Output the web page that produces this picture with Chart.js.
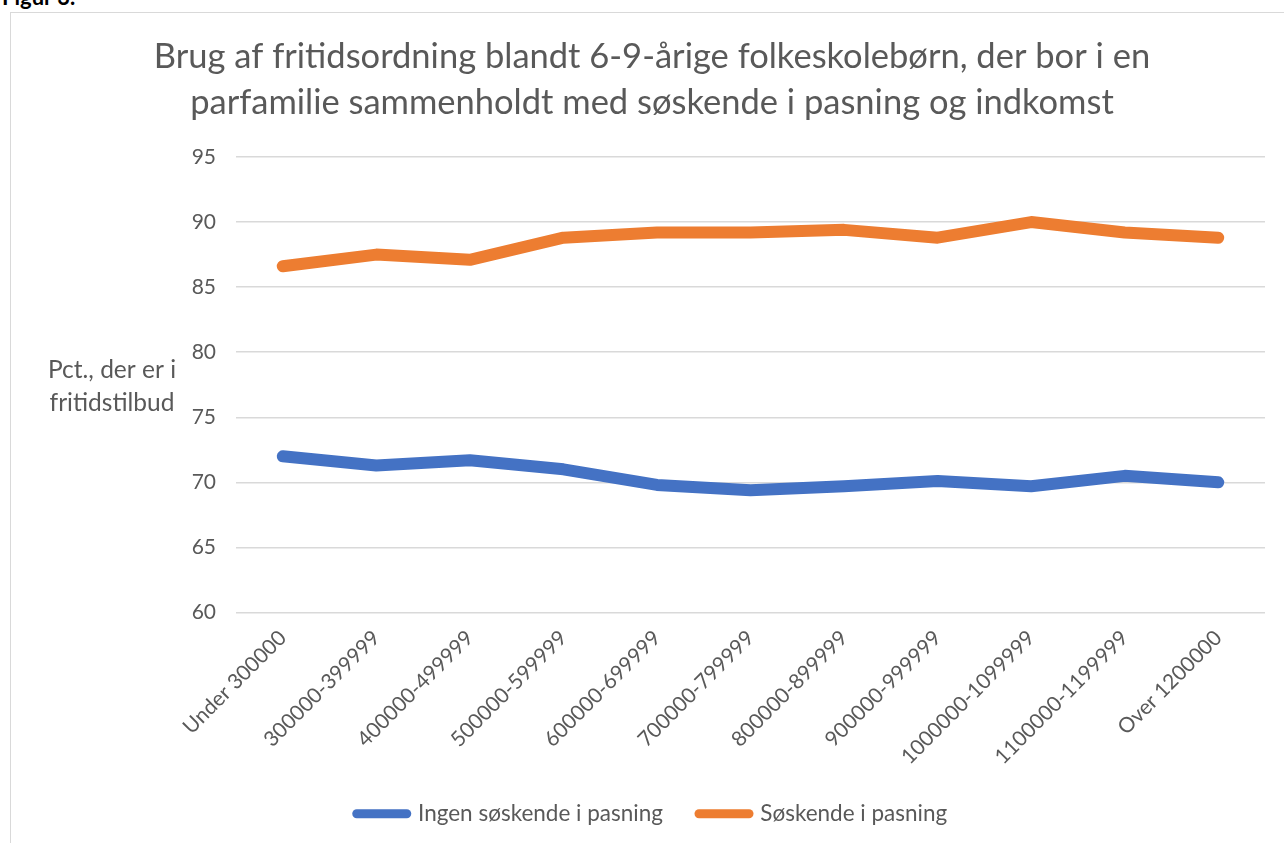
<!DOCTYPE html>
<html>
<head>
<meta charset="utf-8">
<script src="https://cdn.jsdelivr.net/npm/chart.js@4"></script>
<style>
  body { margin: 0; background: #fff; overflow: hidden; width: 1284px; height: 843px; position: relative; }
  #fig { position: absolute; left: 2px; top: -17px; font: bold 22px Lato, sans-serif; color: #000; }
  #box { position: absolute; left: 10px; top: 12px; width: 1290px; height: 850px; border: 1px solid #d9d9d9; box-sizing: border-box; }
  #wrap { position: absolute; left: 11px; top: 13px; width: 1282px; height: 830px; }
</style>
</head>
<body>
<div id="fig">Figur 3.</div>
<div id="box"></div>
<div id="wrap"><canvas id="chart"></canvas></div>
<script>
const categories = ["Under 300000", "300000-399999", "400000-499999", "500000-599999", "600000-699999",
  "700000-799999", "800000-899999", "900000-999999", "1000000-1099999", "1100000-1199999", "Over 1200000"];
const ingenSoskende = [72.0, 71.3, 71.7, 71.0, 69.8, 69.4, 69.7, 70.1, 69.7, 70.5, 70.0];
const soskende = [86.6, 87.5, 87.1, 88.8, 89.2, 89.2, 89.4, 88.8, 90.0, 89.2, 88.8];
const yTicks = [60, 65, 70, 75, 80, 85, 90, 95];
const titleLines = ["Brug af fritidsordning blandt 6-9-årige folkeskolebørn, der bor i en",
  "parfamilie sammenholdt med søskende i pasning og indkomst"];
const yTitleLines = ["Pct., der er i", "fritidstilbud"];

const FONT = "Lato, 'Open Sans', sans-serif";
const textColor = "#595959";

// y-axis title is horizontal in the original, so draw it ourselves
const yTitlePlugin = {
  id: "yTitle",
  beforeDraw(chart) {
    // let the long rotated x labels run past the axis box instead of being clipped
    chart.scales.x._computeLabelArea = () => undefined;
  },
  afterDraw(chart) {
    const ctx = chart.ctx;
    ctx.save();
    ctx.font = "24.5px " + FONT;
    ctx.fillStyle = textColor;
    ctx.textAlign = "center";
    ctx.textBaseline = "middle";
    ctx.fillText(yTitleLines[0], 101, 357);
    ctx.fillText(yTitleLines[1], 101, 390);
    ctx.restore();
  }
};

new Chart(document.getElementById("chart"), {
  type: "line",
  data: {
    labels: categories,
    datasets: [
      {
        label: "Ingen søskende i pasning",
        data: ingenSoskende,
        borderColor: "#4472C4",
        backgroundColor: "#4472C4",
        borderWidth: 12,
        borderCapStyle: "round",
        borderJoinStyle: "round",
        pointRadius: 0,
        tension: 0
      },
      {
        label: "Søskende i pasning",
        data: soskende,
        borderColor: "#ED7D31",
        backgroundColor: "#ED7D31",
        borderWidth: 12,
        borderCapStyle: "round",
        borderJoinStyle: "round",
        pointRadius: 0,
        tension: 0
      }
    ]
  },
  options: {
    responsive: true,
    maintainAspectRatio: false,
    animation: false,
    layout: { padding: { left: 28, right: 28, top: 0, bottom: 8 } },
    scales: {
      y: {
        min: 60,
        max: 95,
        afterBuildTicks: axis => { axis.ticks = yTicks.map(v => ({ value: v })); },
        afterFit: axis => { axis.width = 197; },
        grid: { color: "#d9d9d9", lineWidth: 1.5, drawTicks: false },
        border: { display: false },
        ticks: { color: textColor, font: { family: FONT, size: 21 }, padding: 20 }
      },
      x: {
        offset: true,
        afterFit: axis => { axis.height = 154; },
        grid: { display: false },
        border: { display: false },
        ticks: {
          color: textColor,
          font: { family: FONT, size: 21 },
          minRotation: 45,
          maxRotation: 45,
          autoSkip: false,
          padding: 5
        }
      }
    },
    plugins: {
      title: {
        display: true,
        text: titleLines,
        color: textColor,
        font: { family: FONT, size: 34.5, weight: "normal", lineHeight: 1.333 },
        padding: { top: 21, bottom: 31 }
      },
      legend: {
        position: "bottom",
        labels: {
          color: textColor,
          font: { family: FONT, size: 22.5 },
          usePointStyle: true,
          pointStyle: "line",
          pointStyleWidth: 50,
          padding: 36,
          generateLabels: chart => chart.data.datasets.map((ds, i) => ({
            text: ds.label,
            fillStyle: ds.borderColor,
            strokeStyle: ds.borderColor,
            lineWidth: 9,
            lineCap: "round",
            pointStyle: "line",
            datasetIndex: i,
            fontColor: textColor
          }))
        }
      },
      tooltip: { enabled: false }
    }
  },
  plugins: [yTitlePlugin]
});
</script>
</body>
</html>
